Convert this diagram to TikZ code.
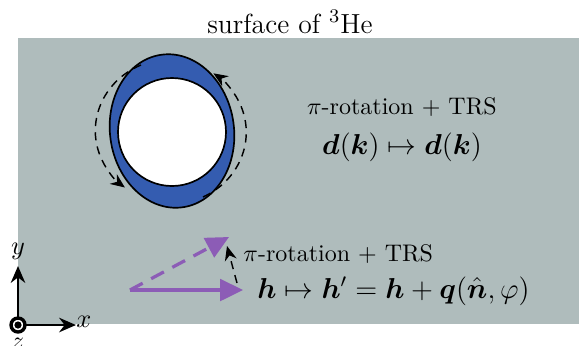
\documentclass[tikz,border=0pt]{standalone}
\usepackage{amsmath,bm}
\usetikzlibrary{arrows.meta}
\definecolor{slab}{RGB}{175,188,188}
\definecolor{ringblue}{RGB}{52,92,176}
\definecolor{vpurple}{RGB}{140,92,182}
\tikzset{
  txt/.style={inner sep=0pt},
  circarrow/.style={dash pattern=on 3.4pt off 2.6pt, line width=0.6pt, -{Stealth[length=6pt,width=5pt]}},
  purplearrow/.style={vpurple, line width=1.35pt, -{Triangle[length=9.5pt,width=9pt]}},
  axis/.style={line width=1.1pt, -{Stealth[length=7pt,width=6pt]}}
}
\begin{document}
\begin{tikzpicture}[x=0.4167pt,y=-0.4167pt]
\useasboundingbox (0,0) rectangle (579,345);
\fill[slab] (18,38) rectangle (579,324);
\node[txt] (title) at (290,22) {\fontsize{11.5}{13}\selectfont surface of $^3$He};
% ring
\coordinate (c) at (172,131);
\draw[fill=ringblue, line width=0.7pt, rotate around={8:(c)}] (c) ellipse [x radius=62, y radius=77];
\draw[fill=white, line width=0.7pt] (172,132) circle [radius=54];
\coordinate (la) at (141,65);
\coordinate (ra) at (203,197);
\draw[circarrow] (la) arc[start angle=246, end angle=128, x radius=77, y radius=72];
\draw[circarrow] (ra) arc[start angle=64, end angle=-55, x radius=77, y radius=72];
\node[txt] (rot1) at (402,107) {$\pi$-rotation $+$ TRS};
\node[txt] (dmap) at (402,147) {\fontsize{11.8}{13}\selectfont $\bm{d}(\bm{k})\mapsto\bm{d}(\bm{k})$};
% axes
\coordinate (O) at (18,325);
\coordinate (ytip) at (18,266);
\coordinate (xtip) at (76,325);
\draw[axis] (O) ++(0,-7) -- (ytip);
\draw[axis] (O) ++(7,0) -- (xtip);
\draw[fill=white, line width=1.4pt] (O) circle [radius=7];
\fill (O) circle [radius=3.6];
\node[txt] (ylab) at (18,251) {\fontsize{11}{13}\selectfont $y$};
\node[txt] (xlab) at (84,322) {\fontsize{11}{13}\selectfont $x$};
\node[txt] (zlab) at (18,343) {$z$};
% vectors
\coordinate (h0) at (130,290);
\coordinate (h1) at (243,290);
\coordinate (h2) at (229,237);
\draw[purplearrow] (h0) -- (h1);
\draw[purplearrow, dash pattern=on 6pt off 4pt] (h0) -- (h2);
\coordinate (r0) at (237,283);
\coordinate (r1) at (227,246);
\draw[dash pattern=on 3.4pt off 2.6pt, line width=0.6pt, -{Stealth[length=6pt,width=5pt]}] (r0) -- (r1);
\node[txt, anchor=west] (rot2) at (243,254) {$\pi$-rotation $+$ TRS};
\node[txt, anchor=west] (hmap) at (257,291) {\fontsize{11.6}{13}\selectfont $\bm{h}\mapsto\bm{h}'=\bm{h}+\bm{q}(\hat{\bm{n}},\varphi)$};
\end{tikzpicture}
\end{document}
